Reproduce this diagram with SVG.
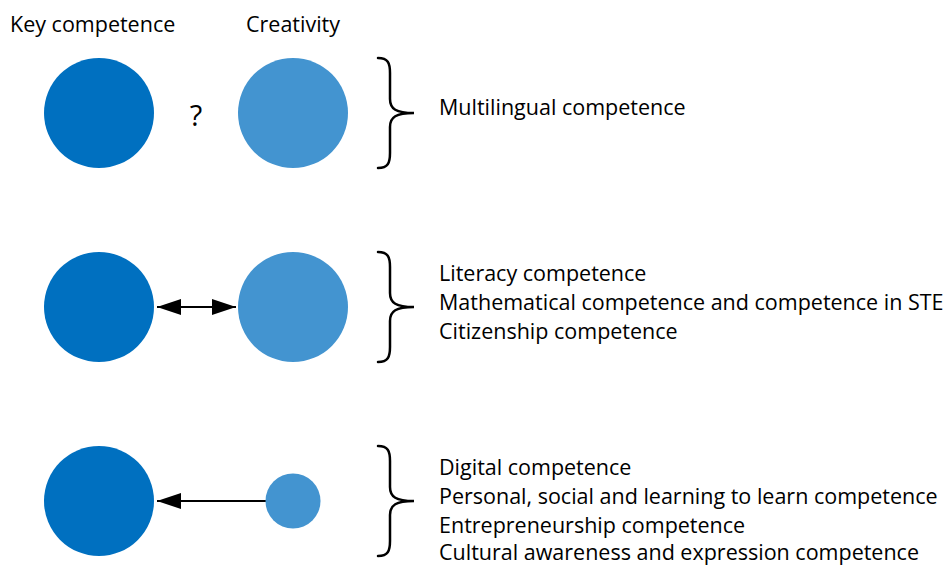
<svg xmlns="http://www.w3.org/2000/svg" width="949" height="566" viewBox="0 0 949 566">
  <style>
    .t { font-family: "Open Sans", "Noto Sans", "Liberation Sans", sans-serif; font-size: 21.5px; fill: #000; }
    .t.q { font-size: 29px; }
    .key { fill: #0070c0; }
    .cre { fill: #4394d0; }
    .brace { fill: none; stroke: #000; stroke-width: 2.5; stroke-linecap: round; }
    .link { stroke: #000; stroke-width: 2; fill: none; }
  </style>
  <defs>
    <marker id="head" viewBox="0 0 24 16" refX="24" refY="8" markerWidth="24" markerHeight="16" markerUnits="userSpaceOnUse" orient="auto-start-reverse">
      <path d="M0,0 L24,8 L0,16 Z" fill="#000"/>
    </marker>
    <path id="brace" d="M-38,-55 C-28,-55 -26,-50 -26,-40 L-26,-14 C-26,-4 -20,0 -2,0 C-20,0 -26,4 -26,14 L-26,40 C-26,50 -28,55 -38,55"/>
  </defs>

  <g id="headers">
    <text class="t" x="10" y="32">Key competence</text>
    <text class="t" x="246" y="32">Creativity</text>
  </g>

  <g id="connectors">
    <line class="link" x1="157" y1="307" x2="236" y2="307" marker-start="url(#head)" marker-end="url(#head)"/>
    <line class="link" x1="266" y1="501" x2="157" y2="501" marker-end="url(#head)"/>
  </g>

  <g id="row1">
    <circle class="key" cx="99" cy="113" r="55"/>
    <text class="t q" x="196" y="126" text-anchor="middle">?</text>
    <circle class="cre" cx="293" cy="113" r="55"/>
    <use href="#brace" class="brace" transform="translate(416,113)"/>
    <text class="t" x="439" y="115">Multilingual competence</text>
  </g>

  <g id="row2">
    <circle class="key" cx="99" cy="307" r="55"/>
    <circle class="cre" cx="293" cy="307" r="55"/>
    <use href="#brace" class="brace" transform="translate(416,307)"/>
    <text class="t" x="439" y="281">Literacy competence</text>
    <text class="t" x="439" y="310">Mathematical competence and competence in STE</text>
    <text class="t" x="439" y="339">Citizenship competence</text>
  </g>

  <g id="row3">
    <circle class="key" cx="99" cy="501" r="55"/>
    <circle class="cre" cx="293" cy="501" r="27.5"/>
    <use href="#brace" class="brace" transform="translate(416,501)"/>
    <text class="t" x="439" y="475">Digital competence</text>
    <text class="t" x="439" y="504">Personal, social and learning to learn competence</text>
    <text class="t" x="439" y="533">Entrepreneurship competence</text>
    <text class="t" x="439" y="560">Cultural awareness and expression competence</text>
  </g>
</svg>
